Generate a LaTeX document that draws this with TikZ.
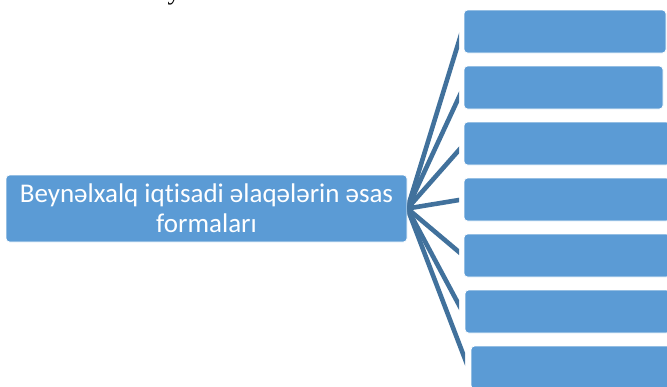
\documentclass[tikz,border=0pt]{standalone}
\usepackage{fontspec}
\setmainfont{Carlito}[Ligatures=CommonOff]
\newfontfamily\strayfont{Liberation Serif}
\usetikzlibrary{calc}
\definecolor{boxblue}{RGB}{91,155,213}
\definecolor{linkblue}{RGB}{65,113,156}
\tikzset{
  formbox/.style={fill=boxblue,draw=white,line width=0.8pt,rounded corners=3.5pt,inner sep=0pt},
  link/.style={draw=linkblue,line width=4.6pt}
}
\begin{document}
\begin{tikzpicture}[x=1pt,y=-1pt]
\useasboundingbox (0,0) rectangle (667,386);
% cut-off letter above the picture
\node[font=\strayfont\fontsize{26}{26}\selectfont,anchor=base,inner sep=0pt] (stray) at (174,-1) {y};
\node[formbox,minimum width=401,minimum height=67,text=white,align=center,
      font=\fontsize{27}{30}\selectfont] (hub) at (206.5,208.5)
  {Beynəlxalq iqtisadi əlaqələrin əsas\\formaları};
\foreach \n/\x/\y/\w in {f1/565/31.5/202,f2/563.5/87.5/199,f3/567/143.5/206,
  f4/567/199.5/206,f5/567/255.5/206,f6/567.5/311.5/205,f7/573/367.5/204}
  \node[formbox,minimum width=\w,minimum height=43] (\n) at (\x,\y) {};
\foreach \i/\ex/\ey in {1/459/41,2/459/97,3/459/150,4/459/200,5/459/252,6/459/305,7/465/359}{
  \coordinate (e\i) at (\ex,\ey);
  \begin{scope}
    \clip (hub.east) ++(0,-300) rectangle (\ex,400);
    \draw[link] (hub.east) -- ($(hub.east)!1.2!(e\i)$);
  \end{scope}}
\end{tikzpicture}
\end{document}
